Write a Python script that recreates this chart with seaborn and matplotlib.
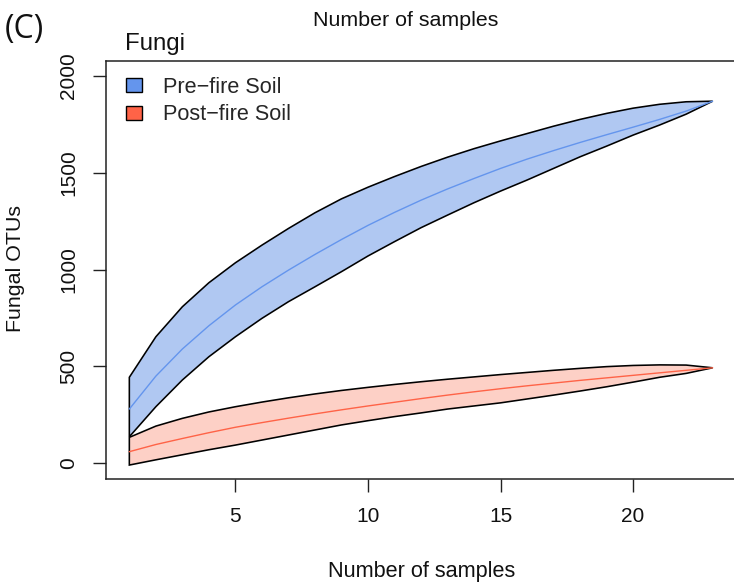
import numpy as np
import pandas as pd
import matplotlib
matplotlib.use("Agg")
import matplotlib.pyplot as plt
import seaborn as sns
from matplotlib.patches import Patch

# ---- data ----
samples = list(range(1, 24))

pre_mean = [280, 450, 590, 710, 817, 911, 997, 1078, 1155, 1228, 1295, 1358,
            1416, 1470, 1522, 1570, 1614, 1656, 1696, 1735, 1775, 1818, 1869]
pre_upper = [444, 653, 808, 932, 1035, 1126, 1212, 1293, 1365, 1425, 1480, 1532,
             1580, 1624, 1664, 1702, 1740, 1775, 1806, 1833, 1853, 1866, 1869]
pre_lower = [137, 292, 430, 550, 653, 748, 834, 911, 989, 1070, 1144, 1216,
             1281, 1345, 1405, 1462, 1522, 1582, 1637, 1694, 1746, 1802, 1869]

post_mean = [60, 97, 128, 158, 186, 210, 233, 255, 276, 296, 315, 334,
             352, 369, 385, 400, 414, 428, 441, 454, 467, 480, 493]
post_upper = [134, 192, 232, 265, 292, 316, 338, 358, 376, 392, 407, 421,
              434, 446, 458, 469, 480, 490, 499, 505, 508, 507, 493]
post_lower = [-9, 18, 44, 70, 94, 120, 146, 172, 198, 220, 241, 260,
              280, 296, 312, 332, 352, 373, 395, 419, 444, 464, 493]

groups = ["Pre\u2212fire Soil", "Post\u2212fire Soil"]
x_ticks = [5, 10, 15, 20]
y_ticks = [0, 500, 1000, 1500, 2000]

line_colors = {"Pre\u2212fire Soil": "#6495ED", "Post\u2212fire Soil": "#FF6347"}
fill_colors = {"Pre\u2212fire Soil": "#b0c8f2", "Post\u2212fire Soil": "#fdd0c6"}

# ---- style ----
sns.set_style("white")
plt.rcParams["font.family"] = ["Liberation Sans", "DejaVu Sans"]

W, H = 734, 584
fig = plt.figure(figsize=(W / 100, H / 100), dpi=100)
ax_l, ax_r, ax_t, ax_b = 106, 736, 60.7, 479
ax = fig.add_axes([ax_l / W, 1 - ax_b / H, (ax_r - ax_l) / W, (ax_b - ax_t) / H])

df = pd.DataFrame({
    "samples": samples * 2,
    "otus": pre_mean + post_mean,
    "group": [groups[0]] * len(samples) + [groups[1]] * len(samples),
})

bands = {groups[0]: (pre_upper, pre_lower), groups[1]: (post_upper, post_lower)}
xs = np.array(samples, dtype=float)
for g in groups:
    up, lo = bands[g]
    px = np.concatenate([xs, xs[::-1]])
    py = np.concatenate([np.array(up, float), np.array(lo, float)[::-1]])
    ax.fill(px, py, facecolor=fill_colors[g], edgecolor="black", linewidth=1.15, zorder=1)

sns.lineplot(data=df, x="samples", y="otus", hue="group", palette=line_colors,
             linewidth=1.0, legend=False, ax=ax, zorder=2)

ax.set_xlim(0.12, 23.88)
ax.set_ylim(-81, 2078)
ax.set_xticks(x_ticks)
ax.set_yticks(y_ticks)
ax.set_xticklabels([str(v) for v in x_ticks])
ax.set_yticklabels([str(v) for v in y_ticks])

for s in ax.spines.values():
    s.set_visible(True)
    s.set_color("#222222")
    s.set_linewidth(1.1)

ax.tick_params(axis="both", direction="out", length=9.5, width=1.0, color="#222222",
               labelsize=15, pad=10.5, bottom=True, left=True, labelcolor="#111111")
for lab in ax.get_yticklabels():
    lab.set_rotation(90)
    lab.set_va("center")
    lab.set_ha("right")

ax.set_xlabel("Number of samples", fontsize=15.6, color="#111111")
ax.set_ylabel("Fungal OTUs", fontsize=15.4, color="#111111", va="center")
ax.xaxis.set_label_coords((422 - ax_l) / (ax_r - ax_l), (ax_b - 572) / (ax_b - ax_t))
ax.xaxis.label.set_va("center")
ax.yaxis.set_label_coords((15 - ax_l) / (ax_r - ax_l), (ax_b - 268.5) / (ax_b - ax_t))

handles = [Patch(facecolor=line_colors[g], edgecolor="black", linewidth=1.0) for g in groups]
ax.legend(handles, groups, loc="upper left",
          bbox_to_anchor=((126 - ax_l) / (ax_r - ax_l), (ax_b - 77) / (ax_b - ax_t)),
          frameon=False, fontsize=15.6, handlelength=0.74, handleheight=0.6,
          handletextpad=0.97, labelspacing=0.3, borderpad=0, borderaxespad=0)

fig.text(406 / W, 1 - 26 / H, "Number of samples", fontsize=15.4, ha="center",
         va="baseline", color="#111111")
fig.text(125 / W, 1 - 50 / H, "Fungi", fontsize=17.3, ha="left", va="baseline",
         color="#111111")
fig.text(5 / W, 1 - 38 / H, "(C)", fontsize=23, ha="left", va="baseline",
         family=["Open Sans", "DejaVu Sans"], color="#111111")

fig.savefig("out.png", dpi=100)
